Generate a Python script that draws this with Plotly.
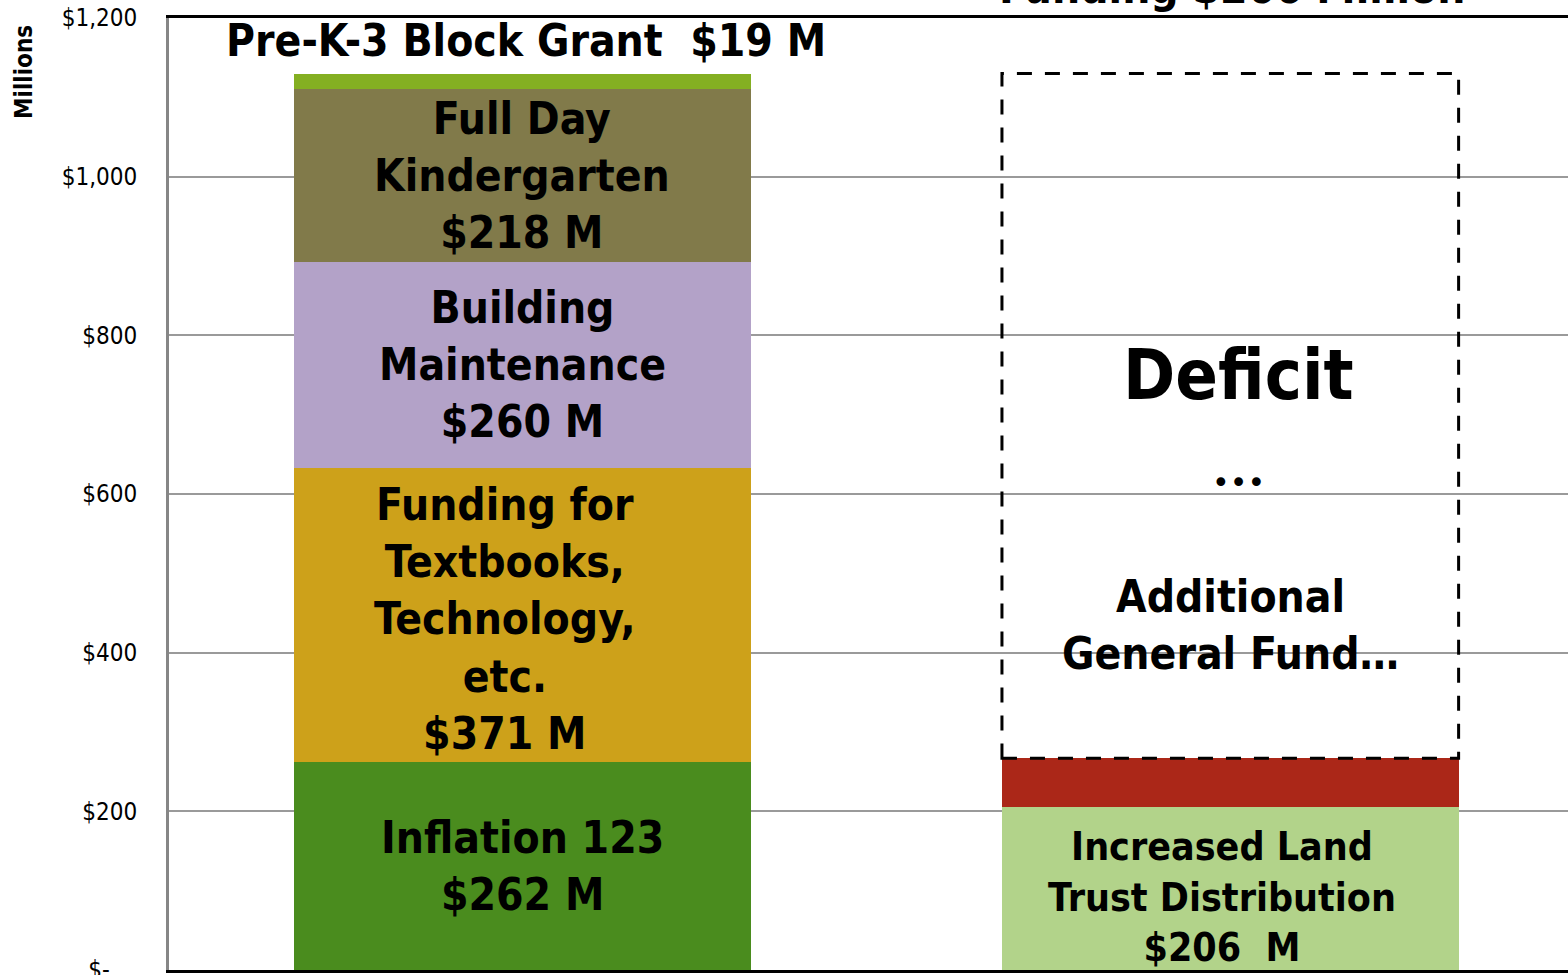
import plotly.graph_objects as go
import numpy as np

# left bar: new costs (millions), bottom to top
cost_names = ["Inflation 123", "Funding for<br>Textbooks,<br>Technology,<br>etc.", "Building<br>Maintenance",
              "Full Day<br>Kindergarten", "Pre-K-3 Block Grant"]
cost_vals = [262, 371, 260, 218, 19]
cost_colors = ["#4A8C1E", "#CDA11A", "#B3A2C8", "#817A4A", "#84AF22"]

# right bar: funding sources
fund_names = ["Increased Land<br>Trust Distribution", "Other"]
fund_vals = [206, 61]
fund_colors = ["#B2D38A", "#AB2718"]

y_ticks = [0, 200, 400, 600, 800, 1000, 1200]
y_tick_text = ["$-\u00a0\u00a0\u00a0\u00a0", "$200", "$400", "$600", "$800", "$1,000", "$1,200"]

FONT = "DejaVu Sans Condensed, DejaVu Sans, sans-serif"
bar_w = 0.645

fig = go.Figure()
for name, v, c in zip(cost_names, cost_vals, cost_colors):
    fig.add_trace(go.Bar(x=[0], y=[v], width=bar_w, marker=dict(color=c, line=dict(width=0)),
                         name=name, showlegend=False, hoverinfo="skip"))
for name, v, c in zip(fund_names, fund_vals, fund_colors):
    fig.add_trace(go.Bar(x=[1], y=[v], width=bar_w, marker=dict(color=c, line=dict(width=0)),
                         name=name, showlegend=False, hoverinfo="skip"))

# dashed deficit box from top of funding to top of costs
total_cost = sum(cost_vals)
total_fund = sum(fund_vals)
fig.add_shape(type="rect", x0=1 - bar_w / 2, x1=1 + bar_w / 2, y0=total_fund, y1=total_cost,
              line=dict(color="black", width=3, dash="15px,13px"), fillcolor="rgba(0,0,0,0)")

lab = dict(family=FONT, size=44, color="black", weight="bold")
annots = []
cum = np.cumsum([0] + cost_vals)
for i in range(4):
    mid = (cum[i] + cum[i + 1]) / 2
    annots.append(dict(x=0, y=mid, text=f"{cost_names[i]}<br>${cost_vals[i]} M",
                       xshift=-17 if i == 1 else 0, yshift=-4 if i == 1 else 0,
                       showarrow=False, font=lab))
annots.append(dict(x=0, y=1172, text=f"Pre-K-3 Block Grant  ${cost_vals[4]} M", xshift=4,
                   showarrow=False, font=lab))
annots.append(dict(x=1, y=fund_vals[0] / 2, yshift=-9, xshift=-8,
                   text=f"{fund_names[0]}<br>${fund_vals[0]}  M", showarrow=False,
                   font=dict(family=FONT, size=39, color="black", weight="bold")))
annots.append(dict(x=1, y=750, xshift=8, text="Deficit", showarrow=False,
                   font=dict(family=FONT, size=70, color="black", weight="bold")))
annots.append(dict(x=1, y=615, xshift=8, text="•••", showarrow=False,
                   font=dict(family="DejaVu Sans", size=30, color="black")))
annots.append(dict(x=1, y=435, text="Additional<br>General Fund…", showarrow=False, font=lab))
annots.append(dict(xref="paper", yref="paper", x=0, y=1, xshift=-145, yshift=-54, textangle=-90,
                   xanchor="center", yanchor="middle", text="Millions", showarrow=False,
                   font=dict(family=FONT, size=24, color="black", weight="bold")))
annots.append(dict(x=1, yref="paper", y=1, yanchor="bottom", yshift=3, xshift=2,
                   text="Funding $266 Million", showarrow=False, font=lab))

fig.update_layout(
    barmode="stack", bargap=0,
    width=1568, height=975,
    margin=dict(l=169, r=0, t=18, b=5),
    plot_bgcolor="white", paper_bgcolor="white",
    annotations=annots,
    xaxis=dict(range=[-0.499, 1.477], showticklabels=False, showgrid=False, zeroline=False,
               showline=True, linecolor="black", linewidth=3, mirror=True, ticks=""),
    yaxis=dict(range=[0, 1200], tickvals=y_ticks, ticktext=y_tick_text, showgrid=True,
               gridcolor="#9A9A9A", gridwidth=2, zeroline=False, showline=True,
               linecolor="#868686", linewidth=3, ticks="", ticklabelstandoff=24,
               ticklabeloverflow="allow", automargin=False,
               tickfont=dict(family=FONT, size=24, color="black")),
)

fig.write_html("out.html", config={"displayModeBar": False},
               post_script="document.body.style.margin='0';document.body.style.overflow='hidden';")
